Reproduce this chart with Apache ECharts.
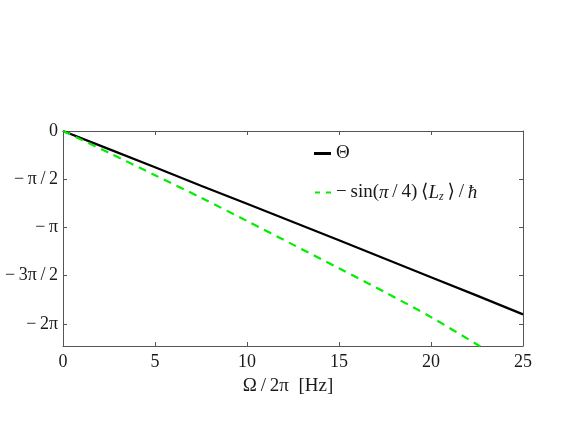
<!DOCTYPE html>
<html>
<head>
<meta charset="utf-8">
<script src="https://cdn.jsdelivr.net/npm/echarts@6/dist/echarts.min.js"></script>
<style>
  html, body { margin: 0; padding: 0; background: #fff; }
  #chart { width: 581px; height: 433px; }
</style>
</head>
<body>
<div id="chart"></div>
<script>
  // frequency Omega/2pi in Hz
  var freq = [0, 2.5, 5, 7.5, 10, 12.5, 15, 17.5, 20, 22.5, 25];
  // Theta (solid black)
  var theta = [0, -0.59, -1.18, -1.78, -2.37, -2.96, -3.56, -4.16, -4.76, -5.36, -5.97];
  // -sin(pi/4)<Lz>/hbar (dashed green)
  var lz = [0, -0.71, -1.44, -2.17, -2.93, -3.70, -4.47, -5.25, -6.06, -6.95, -7.85];
  var yTicks = [0, -Math.PI / 2, -Math.PI, -3 * Math.PI / 2, -2 * Math.PI];
  var yTickLabels = ['0', '−\u2009π\u2009/\u20092', '−\u2009π', '−\u20093π\u2009/\u20092', '−\u20092π'];

  var font = '"Liberation Serif", "DejaVu Serif", serif';
  var axisColor = '#555';
  var txt = '#1a1a1a';

  function pairs(ys) {
    return freq.map(function (f, i) { return [f, ys[i]]; });
  }
  function yLabel(v) {
    for (var i = 0; i < yTicks.length; i++) {
      if (Math.abs(v - yTicks[i]) < 1e-6) return yTickLabels[i];
    }
    return '';
  }

  var tick = { inside: true, length: 4, lineStyle: { color: axisColor } };
  var line = { onZero: false, lineStyle: { color: axisColor, width: 1 } };

  var myChart = echarts.init(document.getElementById('chart'));
  var option = {
    animation: false,
    backgroundColor: '#fff',
    grid: { left: 63, right: 58, top: 131, bottom: 87 },
    legend: [{
      left: 314, top: 144, padding: 0,
      itemWidth: 17, itemHeight: 3,
      textStyle: { fontFamily: font, fontSize: 19, color: txt },
      data: [{ name: 'Θ', icon: 'rect' }]
    }, {
      left: 315, top: 183, padding: 0,
      itemWidth: 16, itemHeight: 3,
      textStyle: {
        fontFamily: font, fontSize: 19, color: txt,
        rich: {
          a: { fontFamily: font, fontSize: 19, color: txt },
          i: { fontFamily: font, fontSize: 19, fontStyle: 'italic', color: txt },
          s: { fontFamily: font, fontSize: 12, fontStyle: 'italic', color: txt, verticalAlign: 'bottom', padding: [9, 0, 0, 0] }
        }
      },
      formatter: function () {
        return '{a|−\u2009sin(}{i|π}{a|\u2009/\u20094)\u2009⟨}{i|L}{s|z}{a|\u2009⟩\u2009/\u2009}{i|ħ}';
      },
      data: [{ name: 'Lz', icon: 'path://M0,0h5v2h-5z M11,0h5v2h-5z' }]
    }],
    xAxis: [{
      type: 'value', min: 0, max: 25, interval: 5,
      name: 'Ω\u2009/\u20092π  [Hz]', nameLocation: 'middle', nameGap: 31,
      nameTextStyle: { fontFamily: font, fontSize: 19, color: txt, padding: [0, 10, 0, 0] },
      axisLine: line, axisTick: tick,
      axisLabel: { fontFamily: font, fontSize: 18, color: txt, margin: 7 },
      splitLine: { show: false }
    }, {
      type: 'value', min: 0, max: 25, interval: 5, position: 'top',
      axisLine: line, axisTick: tick,
      axisLabel: { show: false },
      splitLine: { show: false }
    }],
    yAxis: [{
      type: 'value', min: -7, max: 0,
      axisLine: { show: true, onZero: false, lineStyle: { color: axisColor, width: 1 } },
      axisTick: { show: true, inside: true, length: 4, customValues: yTicks, lineStyle: { color: axisColor } },
      axisLabel: { fontFamily: font, fontSize: 18, color: txt, margin: 5, customValues: yTicks, formatter: yLabel },
      splitLine: { show: false }
    }, {
      type: 'value', min: -7, max: 0, position: 'right',
      axisLine: { show: true, onZero: false, lineStyle: { color: axisColor, width: 1 } },
      axisTick: { show: true, inside: true, length: 4, customValues: yTicks, lineStyle: { color: axisColor } },
      axisLabel: { show: false },
      splitLine: { show: false }
    }],
    series: [{
      name: 'Θ', type: 'line', showSymbol: false, symbol: 'none',
      data: pairs(theta),
      lineStyle: { color: '#000', width: 2.2 },
      itemStyle: { color: '#000' }
    }, {
      name: 'Lz', type: 'line', showSymbol: false, symbol: 'none',
      data: pairs(lz), smooth: 0.3,
      lineStyle: { color: '#00ee00', width: 2.2, type: [8, 6] },
      itemStyle: { color: '#00ee00' }
    }]
  };
  myChart.setOption(option);
</script>
</body>
</html>
